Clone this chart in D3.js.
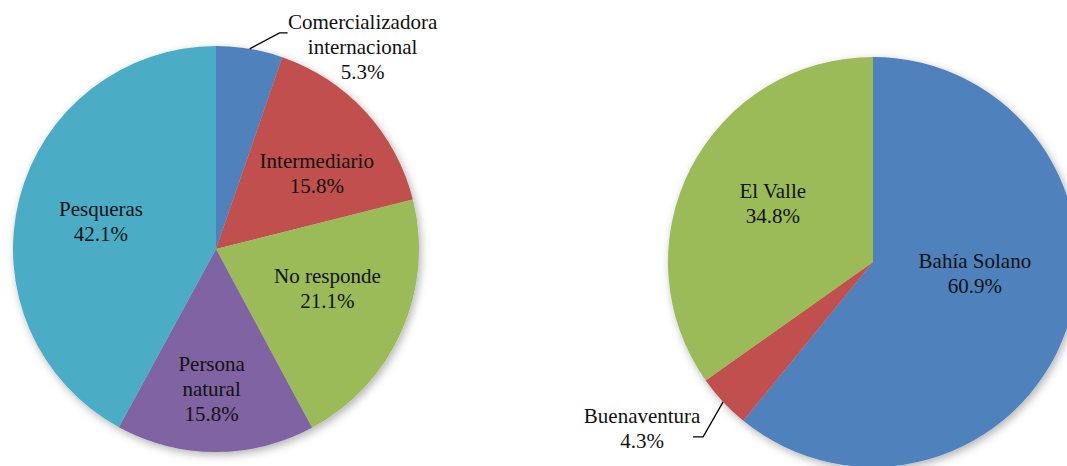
<!DOCTYPE html>
<html>
<head>
<meta charset="utf-8">
<script src="https://cdn.jsdelivr.net/npm/d3@7"></script>
<style>
  body { margin: 0; background: #fff; }
  svg { display: block; }
</style>
</head>
<body>
<svg id="drawing_region"></svg>
<script>
// left pie: buyers
const buyerLabels = [["Comercializadora", "internacional"], ["Intermediario"], ["No responde"], ["Persona", "natural"], ["Pesqueras"]];
const buyerValues = [5.3, 15.8, 21.1, 15.8, 42.1];
const buyerColors = ["#4F81BD", "#C0504D", "#9BBB59", "#8064A2", "#4BACC6"];

// right pie: origin
const placeLabels = [["Bahía Solano"], ["Buenaventura"], ["El Valle"]];
const placeValues = [60.9, 4.3, 34.8];
const placeColors = ["#4F81BD", "#C0504D", "#9BBB59"];

const W = 1067, H = 466;
const svg = d3.select("#drawing_region").attr("width", W).attr("height", H);
const serif = "'Liberation Serif', 'Times New Roman', Tinos, Times, 'DejaVu Serif', serif";

const defs = svg.append("defs");
const f = defs.append("filter").attr("id", "shadow")
    .attr("x", "-10%").attr("y", "-10%").attr("width", "120%").attr("height", "120%");
f.append("feDropShadow")
    .attr("dx", 2).attr("dy", 3).attr("stdDeviation", 4)
    .attr("flood-color", "#000").attr("flood-opacity", 0.3);

const lineH = 25;

function drawPie(cfg) {
    const g = svg.append("g").attr("transform", `translate(${cfg.cx},${cfg.cy})`);
    const data = cfg.values.map((v, i) => ({ v: v, label: cfg.labels[i], color: cfg.colors[i], i: i }));
    const pie = d3.pie().value(d => d.v).sort(null);
    const arcs = pie(data);
    const arc = d3.arc().innerRadius(0).outerRadius(cfg.r);
    const labelArc = d3.arc().innerRadius(cfg.r * 0.6).outerRadius(cfg.r * 0.6);
    const edgeArc = d3.arc().innerRadius(cfg.r).outerRadius(cfg.r);

    const slices = g.append("g").attr("filter", "url(#shadow)");
    slices.selectAll("path").data(arcs).enter()
        .append("path")
        .attr("d", arc)
        .attr("fill", d => d.data.color);

    arcs.forEach(d => {
        const lay = cfg.layout[d.index];
        let c;
        if (lay.outside) {
            const p = edgeArc.centroid(d);
            const elbow = [p[0] + lay.leader[0], p[1] + lay.leader[1]];
            const tail = [elbow[0] + lay.leader[2], elbow[1]];
            g.append("path")
                .attr("d", d3.line()([p, elbow, tail]))
                .attr("fill", "none").attr("stroke", "#000").attr("stroke-width", 1.3);
            c = [p[0] + lay.nudge[0], p[1] + lay.nudge[1]];
        } else {
            const p = labelArc.centroid(d);
            c = [p[0] + lay.nudge[0], p[1] + lay.nudge[1]];
        }
        const lines = d.data.label.concat([d3.format(".1f")(d.data.v) + "%"]);
        const t = g.append("text")
            .attr("text-anchor", "middle")
            .attr("font-family", serif)
            .attr("font-size", 21)
            .attr("fill", "#111");
        lines.forEach((s, k) => {
            t.append("tspan")
                .attr("x", c[0])
                .attr("y", c[1] + (k - (lines.length - 1) / 2) * lineH + 7)
                .text(s);
        });
    });
}

drawPie({
    cx: 216, cy: 249, r: 203,
    values: buyerValues, labels: buyerLabels, colors: buyerColors,
    layout: [
        { outside: true, nudge: [113, -2], leader: [30, -16, 8] },
        { nudge: [11, 7] },
        { nudge: [0, -10] },
        { nudge: [-4, 18] },
        { nudge: [3, 3] }
    ]
});

drawPie({
    cx: 873, cy: 262, r: 205,
    values: placeValues, labels: placeLabels, colors: placeColors,
    layout: [
        { nudge: [-14, -30] },
        { outside: true, nudge: [-81, 27], leader: [-20, 35, -10] },
        { nudge: [9, -2] }
    ]
});
</script>
</body>
</html>
